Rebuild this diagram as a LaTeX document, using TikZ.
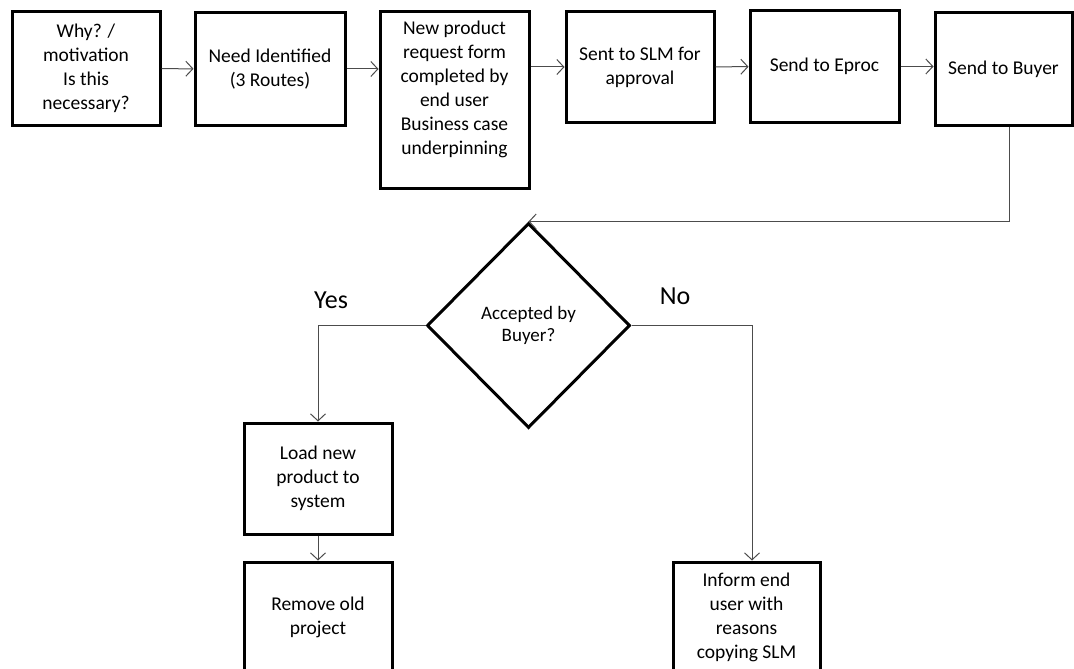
\documentclass[tikz,border=0pt]{standalone}
\usepackage{fontspec}
\setmainfont{Carlito}
\usetikzlibrary{arrows.meta,shapes.geometric}
\begin{document}
\begin{tikzpicture}[x=1pt,y=-1pt,
  box/.style={draw=black,line width=3pt,align=center,inner sep=2pt,
    font=\fontsize{19.5}{24}\selectfont},
  conn/.style={draw=black!70,line width=1pt,-{Straight Barb[length=7pt,width=15pt,line width=1pt]}},
  lbl/.style={font=\fontsize{26}{30}\selectfont,inner sep=0pt}]
\clip (0,0) rectangle (1074,669);
\fill[white] (0,0) rectangle (1074,669);
\node[box,minimum width=148pt,minimum height=113pt] (b1) at (86,68.5) {Why? /\\motivation\\Is this\\necessary?};
\node[box,minimum width=150pt,minimum height=112pt] (b2) at (270,69) {Need Identified\\(3 Routes)};
\node[box,minimum width=149pt,minimum height=176pt] (b3) at (454.5,100) {New product\\request form\\completed by\\end user\\Business case\\underpinning\\\mbox{}};
\node[box,minimum width=148pt,minimum height=110pt] (b4) at (640,67) {Sent to SLM for\\approval};
\node[box,minimum width=149pt,minimum height=111pt] (b5) at (824.5,66.5) {Send to Eproc};
\node[box,minimum width=137pt,minimum height=112pt] (b6) at (1003.5,69) {Send to Buyer};
\node[draw=black,line width=3pt,shape=diamond,minimum width=203pt,minimum height=205pt,inner sep=0pt,align=center,
  font=\fontsize{19}{22}\selectfont] (dia) at (528.5,325.5) {Accepted by\\Buyer?};
\node[box,minimum width=148pt,minimum height=111pt] (b7) at (318,478.5) {Load new\\product to\\system};
\node[box,minimum width=148pt,minimum height=110pt] (b8) at (318,617) {Remove old\\project};
\node[box,minimum width=147pt,minimum height=110pt] (b9) at (746.5,617) {Inform end\\user with\\reasons\\copying SLM};
\node[lbl] (yes) at (331,300) {Yes};
\node[lbl] (no) at (675,296) {No};
\coordinate (r1) at (1009,0);
\coordinate (r2) at (752,0);
\draw[conn] (b1) -- (b2);
\draw[conn] (b2.east) -- (b2.east -| b3.west);
\draw[conn] (b3.east |- b4.west) -- (b4.west);
\draw[conn] (b4) -- (b5);
\draw[conn] (b5) -- (b6.west |- b5.east);
\draw[conn] (b6.south -| r1) |- (dia.north);
\draw[conn] (dia.west) -| (b7.north);
\draw[conn] (b7) -- (b8);
\draw[conn] (dia.east) -| (b9.north -| r2);
\end{tikzpicture}
\end{document}
